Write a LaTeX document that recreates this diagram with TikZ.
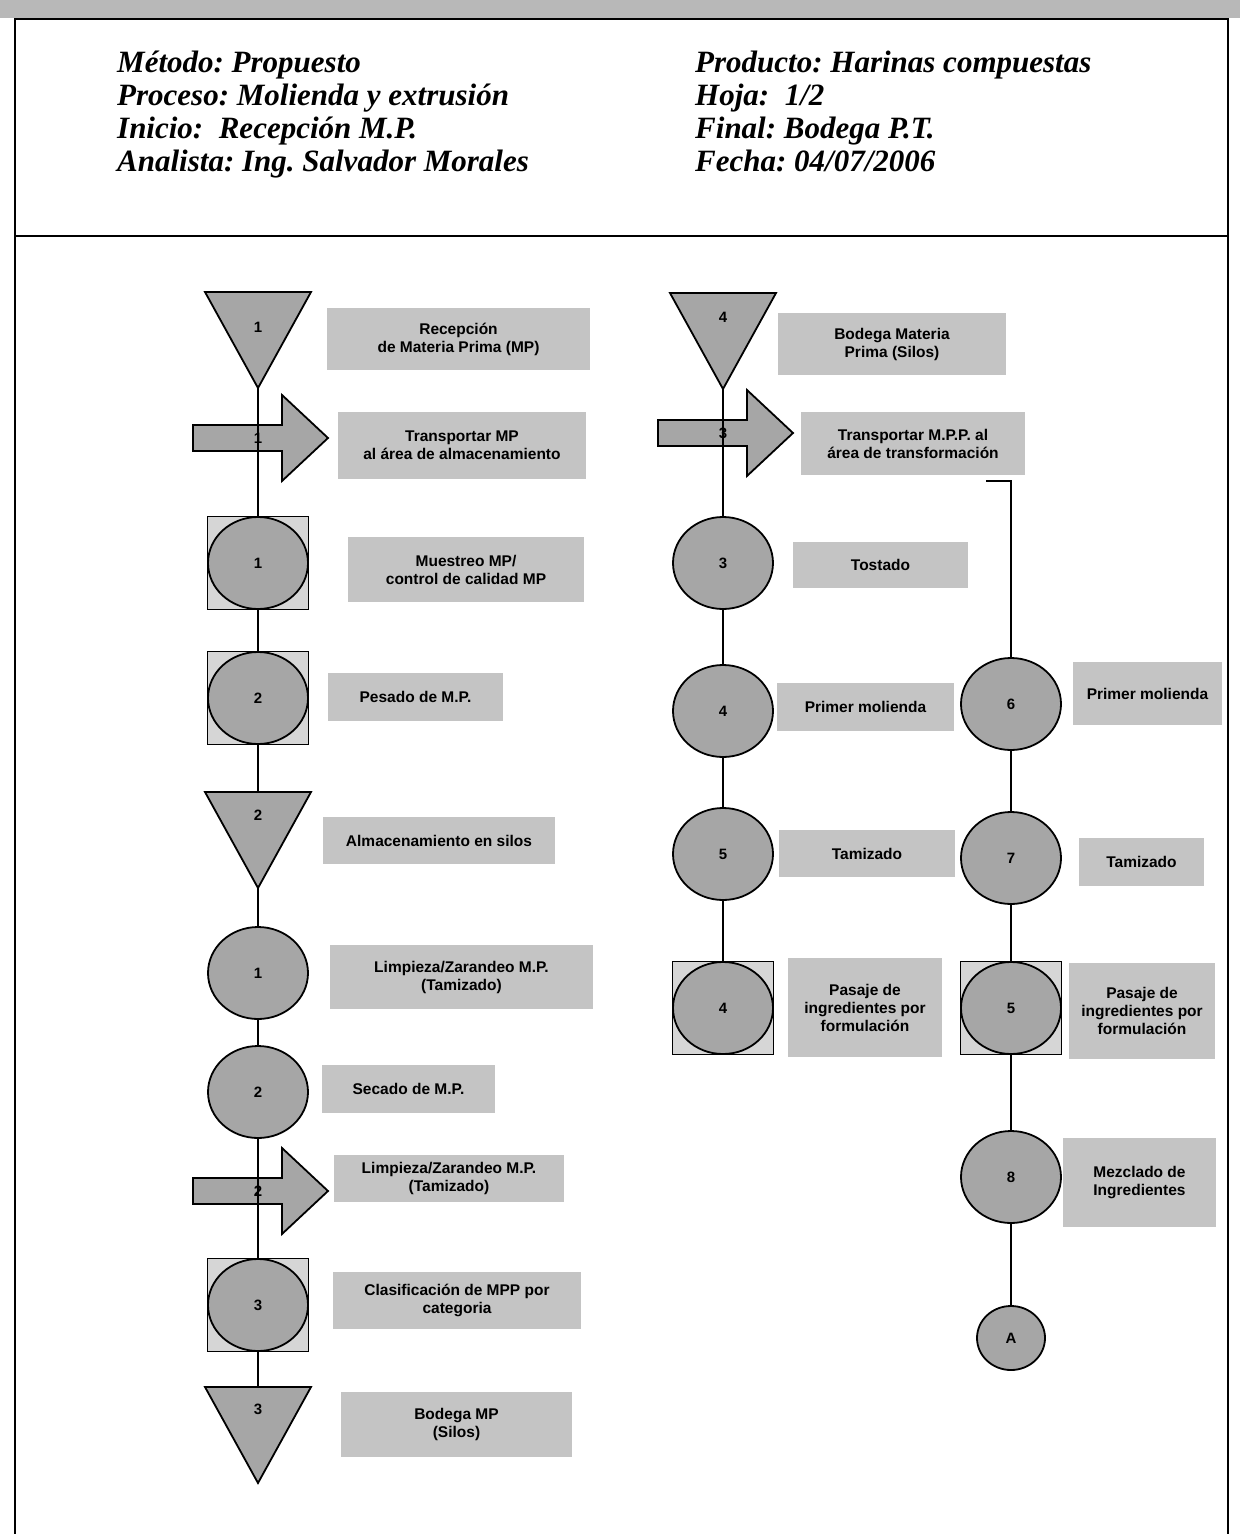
\documentclass[tikz,border=0pt]{standalone}
\usepackage{fontspec}
\setmainfont{Liberation Sans}
\newfontfamily\hdrfont{Liberation Serif}
\usetikzlibrary{shapes.geometric}
\definecolor{lblgray}{RGB}{196,196,196}
\definecolor{shpgray}{RGB}{166,166,166}
\definecolor{sqgray}{RGB}{214,214,214}
\definecolor{stripgray}{RGB}{184,184,184}
\newcommand{\invtri}[5]{%
  \draw[shp] (#2-53,#3) -- (#2+53,#3) -- (#2,#3+96) -- cycle;
  \coordinate (#1top) at (#2,#3);
  \coordinate (#1apex) at (#2,#3+96);
  \node[num] (#1n) at (#2,#3+#5) {#4};}
\newcommand{\procarrow}[3]{%
  \draw[shp] (#2-65,#3-13) -- (#2+24,#3-13) -- (#2+24,#3-43) -- (#2+70,#3)
     -- (#2+24,#3+43) -- (#2+24,#3+13) -- (#2-65,#3+13) -- cycle;
  \coordinate (#1) at (#2,#3);}
\frenchspacing
\begin{document}
\begin{tikzpicture}[x=1pt,y=-1pt,
  lbl/.style={fill=lblgray, inner sep=0pt, align=center, font=\fontsize{15.5}{18}\selectfont\bfseries},
  op/.style={ellipse, draw, line width=1.8pt, fill=shpgray, minimum width=100pt, minimum height=92pt, inner sep=0pt, font=\fontsize{15}{18}\selectfont\bfseries},
  insp/.style={rectangle, draw, line width=1.8pt, fill=sqgray, minimum width=101pt, minimum height=93pt, inner sep=0pt},
  num/.style={font=\fontsize{15}{18}\selectfont\bfseries, inner sep=0pt},
  shp/.style={draw, line width=1.8pt, fill=shpgray, line join=miter},
  conn/.style={line width=2.2pt},
  hdr/.style={anchor=base west, inner sep=0pt, font=\hdrfont\fontsize{31}{33}\selectfont\bfseries\itshape},
]
\useasboundingbox (0,0) rectangle (1240,1534);
% frame
\fill[stripgray] (0,0) rectangle (1240,18);
\draw[line width=2.5pt] (15,1534) -- (15,19) -- (1228,19) -- (1228,1534);
\draw[line width=2pt] (15,236) -- (1228,236);
% header
\node[hdr] (h1) at (117,72) {Método: Propuesto};
\node[hdr] (h2) at (117,105) {Proceso: Molienda y extrusión};
\node[hdr] (h3) at (117,138) {Inicio:\ \ Recepción M.P.};
\node[hdr] (h4) at (117,171) {Analista: Ing. Salvador Morales};
\node[hdr] (h5) at (695,72) {Producto: Harinas compuestas};
\node[hdr] (h6) at (695,105) {Hoja:\ \ 1/2};
\node[hdr] (h7) at (695,138) {Final: Bodega P.T.};
\node[hdr] (h8) at (695,171) {Fecha: 04/07/2006};

% left column
\invtri{t1}{258}{292}{1}{35}
\procarrow{a1}{258}{438}
\node[insp] (s1) at (258,563) {}; \node[op] (s1c) at (s1) {1};
\node[insp] (s2) at (258,698) {}; \node[op] (s2c) at (s2) {2};
\invtri{t2}{258}{792}{2}{23}
\node[op] (c1) at (258,973) {1};
\node[op] (c2) at (258,1092) {2};
\procarrow{a2}{258}{1191}
\node[insp] (s3) at (258,1305) {}; \node[op] (s3c) at (s3) {3};
\invtri{t3}{258}{1387}{3}{22}

% middle column
\invtri{t4}{723}{293}{4}{24}
\procarrow{a3}{723}{433}
\node[op] (c3) at (723,563) {3};
\node[op] (c4) at (723,711) {4};
\node[op] (c5) at (723,854) {5};
\node[insp] (s4) at (723,1008) {}; \node[op] (s4c) at (s4) {4};

% right column
\coordinate (tick) at (986,481);
\node[op] (c6) at (1011,704) {6};
\node[op] (c7) at (1011,858) {7};
\node[insp] (s5) at (1011,1008) {}; \node[op] (s5c) at (s5) {5};
\node[op] (c8) at (1011,1177) {8};
\node[op, minimum width=68pt, minimum height=64pt] (ca) at (1011,1338) {A};

% connectors
\draw[conn] (t1apex) -- (s1.north);
\draw[conn] (s1.south) -- (s2.north);
\draw[conn] (s2.south) -- (t2top);
\draw[conn] (t2apex) -- (c1.north);
\draw[conn] (c1.south) -- (c2.north);
\draw[conn] (c2.south) -- (s3.north);
\draw[conn] (s3.south) -- (t3top);
\draw[conn] (t4apex) -- (c3.north);
\draw[conn] (c3.south) -- (c4.north);
\draw[conn] (c4.south) -- (c5.north);
\draw[conn] (c5.south) -- (s4.north);
\draw[conn] (tick) -| (c6.north);
\draw[conn] (c6.south) -- (c7.north);
\draw[conn] (c7.south) -- (s5.north);
\draw[conn] (s5.south) -- (c8.north);
\draw[conn] (c8.south) -- (ca.north);

% arrow numbers
\node[num] (a1n) at (a1) {1};
\node[num] (a2n) at (a2) {2};
\node[num] (a3n) at (a3) {3};

% labels
\node[lbl, minimum width=263pt, minimum height=62pt] (l1) at (458.5,339) {Recepción\\de Materia Prima (MP)};
\node[lbl, minimum width=248pt, minimum height=67pt] (l2) at (462,445.5) {Transportar MP\\al área de almacenamiento};
\node[lbl, minimum width=236pt, minimum height=65pt] (l3) at (466,569.5) {Muestreo MP/\\control de calidad MP};
\node[lbl, minimum width=175pt, minimum height=48pt] (l4) at (415.5,697) {Pesado de M.P.};
\node[lbl, minimum width=232pt, minimum height=47pt] (l5) at (439,840.5) {Almacenamiento en silos};
\node[lbl, minimum width=263pt, minimum height=64pt] (l6) at (461.5,977) {Limpieza/Zarandeo M.P.\\(Tamizado)};
\node[lbl, minimum width=173pt, minimum height=48pt] (l7) at (408.5,1089) {Secado de M.P.};
\node[lbl, minimum width=230pt, minimum height=47pt] (l8) at (449,1178.5) {Limpieza/Zarandeo M.P.\\(Tamizado)};
\node[lbl, minimum width=248pt, minimum height=57pt] (l9) at (457,1300.5) {Clasificación de MPP por\\categoria};
\node[lbl, minimum width=231pt, minimum height=65pt] (l10) at (456.5,1424.5) {Bodega MP\\(Silos)};
\node[lbl, minimum width=228pt, minimum height=62pt] (l11) at (892,344) {Bodega Materia\\Prima (Silos)};
\node[lbl, minimum width=224pt, minimum height=63pt] (l12) at (913,443.5) {Transportar M.P.P. al\\área de transformación};
\node[lbl, minimum width=175pt, minimum height=46pt] (l13) at (880.5,565) {Tostado};
\node[lbl, minimum width=177pt, minimum height=48pt] (l14) at (865.5,707) {Primer molienda};
\node[lbl, minimum width=176pt, minimum height=47pt] (l15) at (867,853.5) {Tamizado};
\node[lbl, minimum width=154pt, minimum height=99pt] (l16) at (865,1007.5) {Pasaje de\\ingredientes por\\formulación};
\node[lbl, minimum width=149pt, minimum height=63pt] (l17) at (1147.5,693.5) {Primer molienda};
\node[lbl, minimum width=125pt, minimum height=48pt] (l18) at (1141.5,862) {Tamizado};
\node[lbl, minimum width=146pt, minimum height=96pt] (l19) at (1142,1011) {Pasaje de\\ingredientes por\\formulación};
\node[lbl, minimum width=153pt, minimum height=89pt] (l20) at (1139.5,1182.5) {Mezclado de\\Ingredientes};
\end{tikzpicture}
\end{document}
